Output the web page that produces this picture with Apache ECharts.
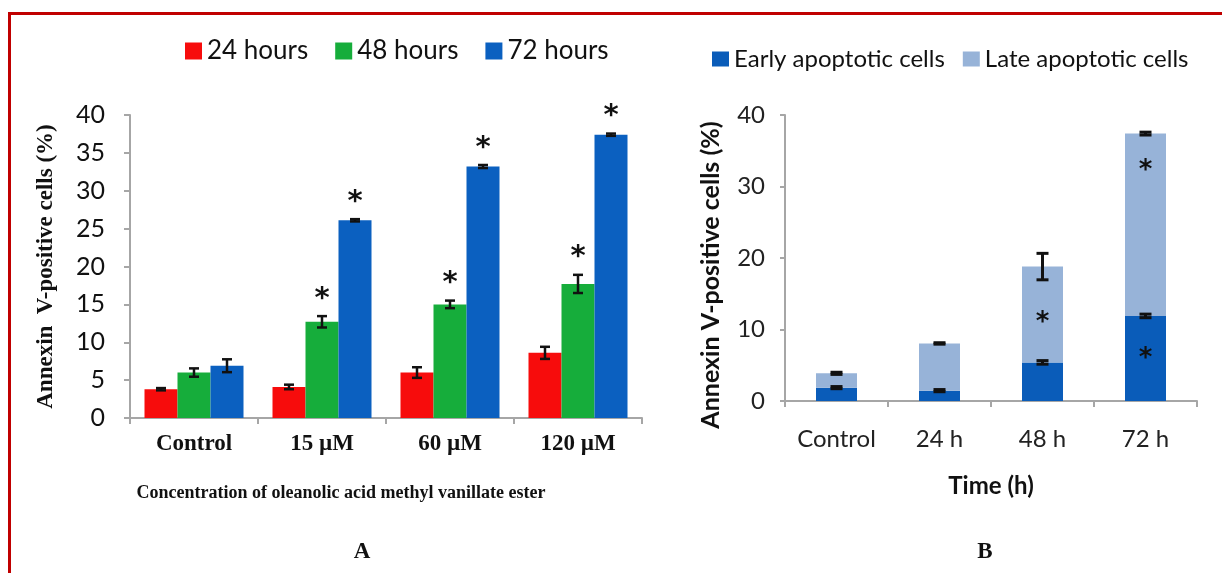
<!DOCTYPE html>
<html>
<head>
<meta charset="utf-8">
<script src="https://cdn.jsdelivr.net/npm/echarts@6/dist/echarts.min.js"></script>
<style>
html,body{margin:0;padding:0;background:#fff;}
#chart{width:1222px;height:573px;}
</style>
</head>
<body>
<div id="chart"></div>
<script>
// ---------- Panel A data ----------
const catsA = ['Control', '15 µM', '60 µM', '120 µM'];
const namesA = ['24 hours', '48 hours', '72 hours'];
const h24 = [3.8, 4.1, 6.0, 8.6];
const h24Err = [0.15, 0.3, 0.7, 0.8];
const h48 = [6.0, 12.7, 15.0, 17.7];
const h48Err = [0.55, 0.75, 0.5, 1.2];
const h72 = [6.9, 26.1, 33.2, 37.4];
const h72Err = [0.85, 0.15, 0.2, 0.15];
const sig24 = [0, 0, 0, 0];
const sig48 = [0, 1, 1, 1];
const sig72 = [0, 1, 1, 1];
const ticksA = [0, 5, 10, 15, 20, 25, 30, 35, 40];

// ---------- Panel B data ----------
const catsB = ['Control', '24 h', '48 h', '72 h'];
const namesB = ['Early apoptotic cells', 'Late apoptotic cells'];
const early = [1.87, 1.45, 5.4, 11.9];
const earlyErr = [0.15, 0.15, 0.25, 0.25];
const late = [2.0, 6.6, 13.4, 25.5];
const totalErr = [0.15, 0.1, 1.85, 0.2];
// significance asterisks: [category index, value]
const starsB = [[2, 11.7], [3, 33.0], [3, 6.7]];
const ticksB = [0, 10, 20, 30, 40];

const colA = ['#f70c0c', '#16ad3b', '#0b60c0'];
const colB = ['#0a5cb9', '#97b3d8'];
const axisCol = '#a6a6a6';
const serif = '"Liberation Serif", "Times New Roman", serif';
const sans = 'Lato, "Open Sans", sans-serif';
const starFont = '"DejaVu Sans", sans-serif';

const BW_A = 33;

function errSeriesData(vals, errs, sig, base) {
  return vals.map((v, i) => {
    const c = base ? base[i] + v : v;
    return [i, c - errs[i], c + errs[i], sig ? sig[i] : 0];
  });
}

function errRender(offset, capW, lw) {
  return function (params, api) {
    const i = api.value(0);
    const pt = api.coord([i, api.value(2)]);
    const pb = api.coord([i, api.value(1)]);
    const x = pt[0] + offset;
    const st = { stroke: '#111', lineWidth: lw };
    const ch = [
      { type: 'line', shape: { x1: x, y1: pt[1], x2: x, y2: pb[1] }, style: st },
      { type: 'line', shape: { x1: x - capW, y1: pt[1], x2: x + capW, y2: pt[1] }, style: st },
      { type: 'line', shape: { x1: x - capW, y1: pb[1], x2: x + capW, y2: pb[1] }, style: st }
    ];
    if (api.value(3)) {
      ch.push({
        type: 'text',
        style: {
          text: '*', x: x, y: pt[1] - 17, align: 'center', verticalAlign: 'middle',
          fontFamily: starFont, fontWeight: 'bold', fontSize: 29, fill: '#111'
        }
      });
    }
    return { type: 'group', children: ch };
  };
}

function starRender(params, api) {
  const p = api.coord([api.value(0), api.value(1)]);
  return {
    type: 'text',
    style: {
      text: '*', x: p[0], y: p[1] + 6, align: 'center', verticalAlign: 'middle',
      fontFamily: starFont, fontWeight: 'bold', fontSize: 26, fill: '#111'
    }
  };
}

const valsA = [h24, h48, h72];
const errsA = [h24Err, h48Err, h72Err];
const sigsA = [sig24, sig48, sig72];

const series = [];
valsA.forEach((v, k) => {
  series.push({
    name: namesA[k], type: 'bar', xAxisIndex: 0, yAxisIndex: 0,
    data: v, barWidth: BW_A, barGap: '0%',
    itemStyle: { color: colA[k] }
  });
});
valsA.forEach((v, k) => {
  series.push({
    type: 'custom', xAxisIndex: 0, yAxisIndex: 0, z: 5,
    renderItem: errRender((k - 1) * BW_A, 5, 2.5),
    encode: { x: 0, y: [1, 2] },
    data: errSeriesData(v, errsA[k], sigsA[k])
  });
});

series.push({
  name: namesB[0], type: 'bar', xAxisIndex: 1, yAxisIndex: 1, stack: 'b',
  data: early, barWidth: 41, itemStyle: { color: colB[0] }
});
series.push({
  name: namesB[1], type: 'bar', xAxisIndex: 1, yAxisIndex: 1, stack: 'b',
  data: late, barWidth: 41, itemStyle: { color: colB[1] }
});
series.push({
  type: 'custom', xAxisIndex: 1, yAxisIndex: 1, z: 5,
  renderItem: errRender(0, 6, 3), encode: { x: 0, y: [1, 2] },
  data: errSeriesData(early, earlyErr)
});
series.push({
  type: 'custom', xAxisIndex: 1, yAxisIndex: 1, z: 5,
  renderItem: errRender(0, 6, 3), encode: { x: 0, y: [1, 2] },
  data: errSeriesData(late, totalErr, null, early)
});
series.push({
  type: 'custom', xAxisIndex: 1, yAxisIndex: 1, z: 6,
  renderItem: starRender, encode: { x: 0, y: 1 },
  data: starsB
});

const axisLine = { show: true, lineStyle: { color: axisCol, width: 2 } };

const option = {
  animation: false,
  backgroundColor: '#fff',
  graphic: [
    { type: 'polyline', shape: { points: [[9.5, 573], [9.5, 13.5], [1222, 13.5]] },
      style: { stroke: '#c00000', lineWidth: 3, fill: null } }
  ],
  title: [
    { text: 'A', left: 357, top: 536, textAlign: 'center',
      textStyle: { fontFamily: serif, fontWeight: 'bold', fontSize: 23, color: '#111' } },
    { text: 'B', left: 980, top: 536, textAlign: 'center',
      textStyle: { fontFamily: serif, fontWeight: 'bold', fontSize: 23, color: '#111' } }
  ],
  legend: [
    { data: namesA, left: 180, top: 33, itemWidth: 17, itemHeight: 17, itemGap: 27,
      icon: 'rect', textStyle: { fontFamily: sans, fontSize: 26, color: '#111' } },
    { data: namesB, left: 707, top: 42, itemWidth: 17, itemHeight: 15, itemGap: 18,
      icon: 'rect', textStyle: { fontFamily: sans, fontSize: 24, color: '#111' } }
  ],
  grid: [
    { left: 130, top: 115, width: 512, height: 303 },
    { left: 785, top: 115, width: 412, height: 286 }
  ],
  xAxis: [
    { type: 'category', gridIndex: 0, data: catsA, axisLine,
      axisTick: { show: true, length: 6, lineStyle: { color: axisCol, width: 2 } },
      axisLabel: { margin: 15, fontFamily: serif, fontWeight: 'bold', fontSize: 23, color: '#111' },
      name: 'Concentration of oleanolic acid methyl vanillate ester', nameLocation: 'middle', nameGap: 66,
      nameTextStyle: { fontFamily: serif, fontWeight: 'bold', fontSize: 18, color: '#111', padding: [0, 90, 0, 0] } },
    { type: 'category', gridIndex: 1, data: catsB, axisLine,
      axisTick: { show: true, length: 6, lineStyle: { color: axisCol, width: 2 } },
      axisLabel: { margin: 26, fontFamily: sans, fontSize: 24, color: '#222' },
      name: 'Time (h)', nameLocation: 'middle', nameGap: 73,
      nameTextStyle: { fontFamily: sans, fontWeight: 'bold', fontSize: 24, color: '#111' } }
  ],
  yAxis: [
    { type: 'value', gridIndex: 0, min: ticksA[0], max: ticksA[ticksA.length - 1], interval: ticksA[1] - ticksA[0],
      axisLine, splitLine: { show: false },
      axisTick: { show: true, length: 6, lineStyle: { color: axisCol, width: 2 } },
      axisLabel: { margin: 25, fontFamily: sans, fontSize: 25, color: '#111' },
      name: 'Annexin  V-positive cells (%)', nameLocation: 'middle', nameGap: 72,
      nameTextStyle: { fontFamily: serif, fontWeight: 'bold', fontSize: 23, color: '#111' } },
    { type: 'value', gridIndex: 1, min: ticksB[0], max: ticksB[ticksB.length - 1], interval: ticksB[1] - ticksB[0],
      axisLine, splitLine: { show: false },
      axisTick: { show: true, length: 5, lineStyle: { color: axisCol, width: 2 } },
      axisLabel: { margin: 20, fontFamily: sans, fontSize: 24, color: '#222' },
      name: 'Annexin V-positive cells (%)', nameLocation: 'middle', nameGap: 62,
      nameTextStyle: { fontFamily: sans, fontWeight: 'bold', fontSize: 25, color: '#111', padding: [0, 34, 0, 0] } }
  ],
  series
};

const chart = echarts.init(document.getElementById('chart'));
chart.setOption(option);
</script>
</body>
</html>
